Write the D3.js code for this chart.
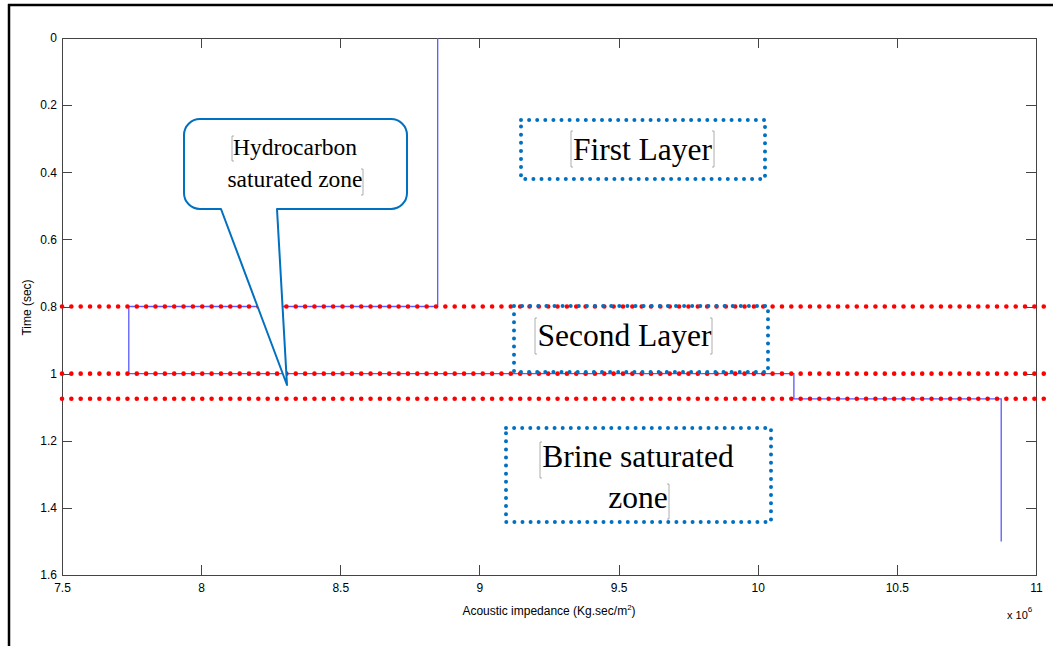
<!DOCTYPE html>
<html>
<head>
<meta charset="utf-8">
<script src="https://cdn.jsdelivr.net/npm/d3@7/dist/d3.min.js"></script>
<style>
  html, body { margin: 0; padding: 0; background: #fff; }
  svg { display: block; }
  .tick text { font-family: "Liberation Sans", Arial, sans-serif; font-size: 12px; fill: #000; }
  .axis path, .axis line { stroke: #444; stroke-width: 1; shape-rendering: crispEdges; }
</style>
</head>
<body>
<svg id="chart" width="1053" height="646"></svg>
<script>
// Layered impedance model: each layer starts at a time (sec) and has one impedance (x 10^6 Kg.sec/m^2)
const layerTops = [0, 0.8, 1.0, 1.075];
const layerImpedance = [8.85, 7.74, 10.13, 10.875];
const profileEnd = 1.5;

// Layer boundaries marked with red dotted lines
const boundaryTimes = [0.8, 1.0, 1.075];

// Axis ticks
const xTicks = [7.5, 8, 8.5, 9, 9.5, 10, 10.5, 11];
const yTicks = [0, 0.2, 0.4, 0.6, 0.8, 1, 1.2, 1.4, 1.6];

const svg = d3.select("#chart");
const plot = { left: 62, right: 1036, top: 38, bottom: 575 };

const x = d3.scaleLinear().domain([7.5, 11]).range([plot.left, plot.right]);
const y = d3.scaleLinear().domain([0, 1.6]).range([plot.top, plot.bottom]);

// Outer frame (top and left edges)
svg.append("line").attr("x1", 8).attr("x2", 1053).attr("y1", 5).attr("y2", 5)
  .attr("stroke", "#000").attr("stroke-width", 2.5);
svg.append("line").attr("x1", 9).attr("x2", 9).attr("y1", 4).attr("y2", 646)
  .attr("stroke", "#000").attr("stroke-width", 2.5);

// Axes with inward ticks on all four sides
const fmt = d3.format("");
svg.append("g").attr("class", "axis")
  .attr("transform", `translate(0,${plot.bottom})`)
  .call(d3.axisBottom(x).tickValues(xTicks).tickFormat(fmt).tickSizeInner(-10).tickSizeOuter(0).tickPadding(8));
svg.append("g").attr("class", "axis")
  .attr("transform", `translate(0,${plot.top})`)
  .call(d3.axisTop(x).tickValues(xTicks).tickFormat("").tickSizeInner(-10).tickSizeOuter(0));
svg.append("g").attr("class", "axis")
  .attr("transform", `translate(${plot.left},0)`)
  .call(d3.axisLeft(y).tickValues(yTicks).tickFormat(fmt).tickSizeInner(-10).tickSizeOuter(0).tickPadding(5));
svg.append("g").attr("class", "axis")
  .attr("transform", `translate(${plot.right},0)`)
  .call(d3.axisRight(y).tickValues(yTicks).tickFormat("").tickSizeInner(-10).tickSizeOuter(0));

// Axis titles
svg.append("text")
  .attr("transform", `translate(31,${(plot.top + plot.bottom) / 2 + 1}) rotate(-90)`)
  .attr("text-anchor", "middle")
  .style("font-family", "Liberation Sans, Arial, sans-serif").style("font-size", "12px")
  .text("Time (sec)");
const xt = svg.append("text")
  .attr("x", (plot.left + plot.right) / 2).attr("y", 615)
  .attr("text-anchor", "middle")
  .style("font-family", "Liberation Sans, Arial, sans-serif").style("font-size", "12px");
xt.append("tspan").text("Acoustic impedance (Kg.sec/m");
xt.append("tspan").attr("dy", -5).style("font-size", "8px").text("2");
xt.append("tspan").attr("dy", 5).text(")");
const mult = svg.append("text")
  .attr("x", 1007).attr("y", 619)
  .style("font-family", "Liberation Sans, Arial, sans-serif").style("font-size", "11px");
mult.append("tspan").text("x 10");
mult.append("tspan").attr("dy", -7).style("font-size", "8px").text("6");

// Impedance step profile
const profile = [];
layerTops.forEach((t, i) => {
  const tEnd = i < layerTops.length - 1 ? layerTops[i + 1] : profileEnd;
  profile.push([layerImpedance[i], t], [layerImpedance[i], tEnd]);
});
svg.append("path")
  .datum(profile)
  .attr("fill", "none")
  .attr("stroke", "#5a5aff")
  .attr("stroke-width", 1.3)
  .attr("d", d3.line().x(d => x(d[0])).y(d => y(d[1])));

// Red dotted boundary lines
svg.selectAll("line.boundary")
  .data(boundaryTimes)
  .enter().append("line")
  .attr("class", "boundary")
  .attr("x1", x(7.5)).attr("x2", x(11) + 16)
  .attr("y1", d => y(d)).attr("y2", d => y(d))
  .attr("stroke", "#ff0000")
  .attr("stroke-width", 4.6)
  .attr("stroke-linecap", "round")
  .attr("stroke-dasharray", "0 9.35");

// Serif label helpers
const serif = "Liberation Serif, 'Times New Roman', serif";
function bracket(px, y0, y1, side) {
  const w = 2 * side;
  svg.append("path")
    .attr("d", `M${px + w},${y0} H${px} V${y1} H${px + w}`)
    .attr("fill", "none").attr("stroke", "#999").attr("stroke-width", 0.8);
}
function dottedBox(x0, y0, x1, y1) {
  svg.append("rect")
    .attr("x", x0).attr("y", y0).attr("width", x1 - x0).attr("height", y1 - y0)
    .attr("fill", "none")
    .attr("stroke", "#0070c0")
    .attr("stroke-width", 4)
    .attr("stroke-linecap", "round")
    .attr("stroke-dasharray", "0 8.1");
}
function label(lines, cx, baseline, size, lh) {
  lines.forEach((s, i) => {
    svg.append("text")
      .attr("x", cx).attr("y", baseline + i * lh)
      .attr("text-anchor", "middle")
      .style("font-family", serif).style("font-size", size + "px")
      .text(s);
  });
}

// Layer annotations
dottedBox(521, 120, 765, 179);
label(["First Layer"], 642.5, 160, 31.5, 0);
bracket(571, 131, 167, 1); bracket(714, 131, 167, -1);

dottedBox(514, 306, 768, 372);
label(["Second Layer"], 624.5, 346, 31.5, 0);
bracket(535, 318, 354, 1); bracket(712, 318, 354, -1);

dottedBox(506, 428, 771, 522);
label(["Brine saturated", "zone"], 638, 467, 31.5, 41);
bracket(540, 442, 478, 1); bracket(669, 484, 519, -1);

// Callout for the hydrocarbon zone
const cb = { l: 184, t: 119, r: 407, b: 209, rad: 16 };
const tip = [287, 385];
svg.append("path")
  .attr("d", `M${cb.l + cb.rad},${cb.t} H${cb.r - cb.rad} A${cb.rad},${cb.rad} 0 0 1 ${cb.r},${cb.t + cb.rad}
     V${cb.b - cb.rad} A${cb.rad},${cb.rad} 0 0 1 ${cb.r - cb.rad},${cb.b} H277 L${tip[0]},${tip[1]} L221,${cb.b}
     H${cb.l + cb.rad} A${cb.rad},${cb.rad} 0 0 1 ${cb.l},${cb.b - cb.rad} V${cb.t + cb.rad}
     A${cb.rad},${cb.rad} 0 0 1 ${cb.l + cb.rad},${cb.t} Z`)
  .attr("fill", "#fff")
  .attr("stroke", "#0070c0")
  .attr("stroke-width", 2)
  .attr("stroke-linejoin", "round");
label(["Hydrocarbon", "saturated zone"], 295, 155, 23.5, 32);
bracket(232, 136, 161, 1); bracket(363, 169, 195, -1);
</script>
</body>
</html>
